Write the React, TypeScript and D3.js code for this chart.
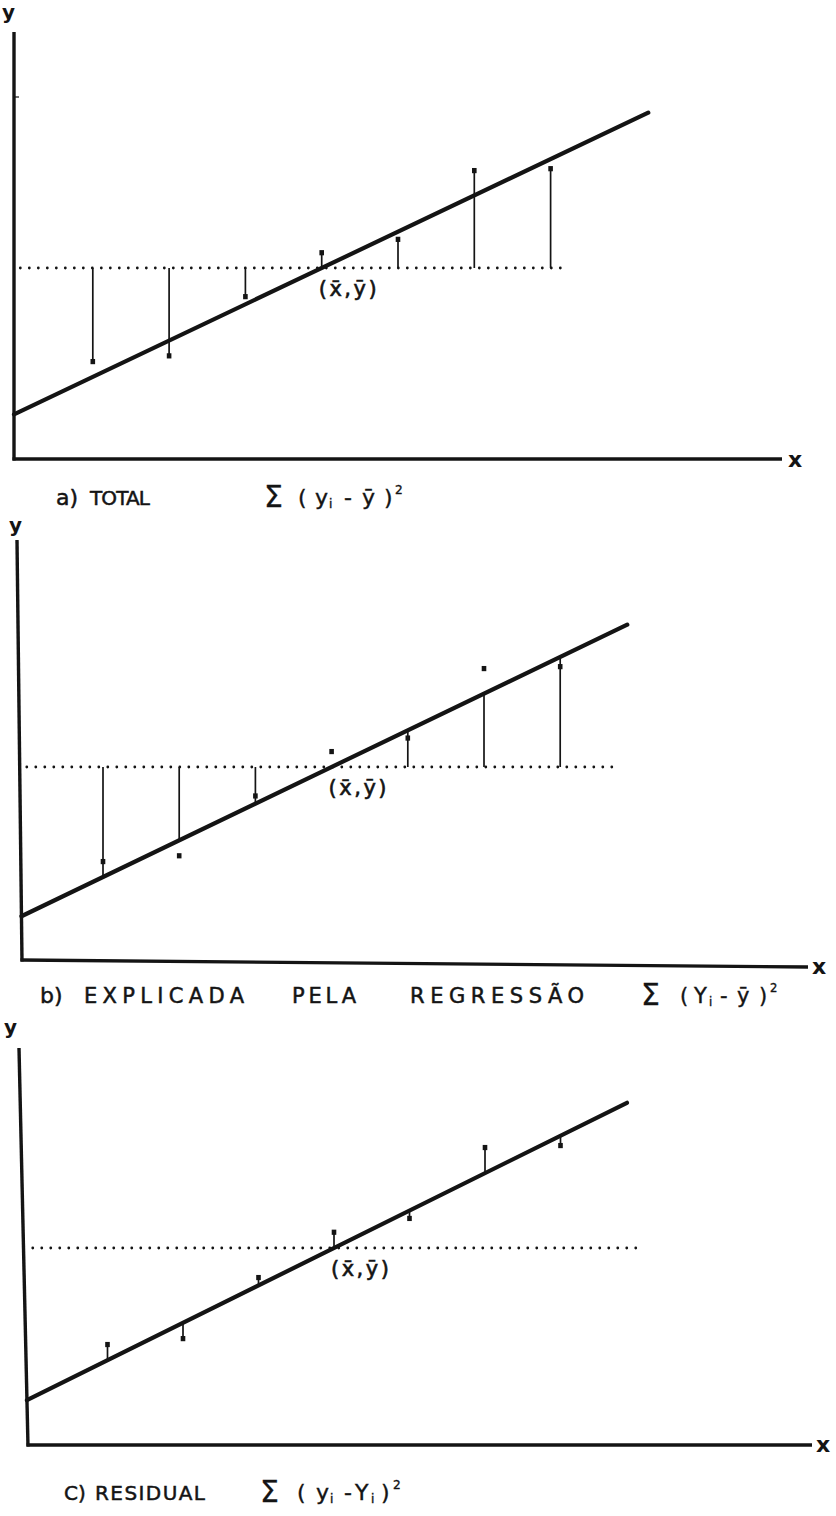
import React from "react";
import * as d3 from "d3";

// Observations (x_i, y_i) shared by the three decompositions
const xValues = [1, 2, 3, 4, 5, 6, 7];
const yValues = [5.1, 5.4, 8.5, 10.8, 11.5, 15.1, 15.2];

// Means and the fitted regression line Y = a + b·x
const xMean = 4;
const yMean = 10;
const intercept = 2.4;
const slope = 1.9;

type Mode = "total" | "explained" | "residual";
const panelModes: Mode[] = ["total", "explained", "residual"];

// Caption words and the sum of squares shown next to them
const captionWords = [
  ["a)", "TOTAL"],
  ["b)", "EXPLICADA", "PELA", "REGRESSÃO"],
  ["C)", "RESIDUAL"],
];
// Glyphs of each squared difference: [text, role]
const formulaGlyphs: [string, "n" | "sub" | "sup"][][] = [
  [["(", "n"], ["y", "n"], ["i", "sub"], ["-", "n"], ["ȳ", "n"], [")", "n"], ["2", "sup"]],
  [["(", "n"], ["Y", "n"], ["i", "sub"], ["-", "n"], ["ȳ", "n"], [")", "n"], ["2", "sup"]],
  [["(", "n"], ["y", "n"], ["i", "sub"], ["-", "n"], ["Y", "n"], ["i", "sub"], [")", "n"], ["2", "sup"]],
];

interface Word {
  x: number;
  size: number;
  w?: number;
}
interface Layout {
  top: number;
  leftTop: number;
  leftBottom: number;
  bottom: number;
  bottomRight: number;
  right: number;
  x0: number;
  xUnit: number;
  yUnit: number;
  lineEnd: number;
  meanFrom: number;
  meanTo: number;
  yLabel: [number, number];
  xLabel: [number, number];
  captionY: number;
  words: Word[];
  sigmaX: number;
  formulaX: number;
  glyphOffsets: number[];
  formulaSize: number;
}

const layouts: Layout[] = [
  {
    top: 32, leftTop: 14, leftBottom: 14, bottom: 459, bottomRight: 459, right: 782,
    x0: 16.5, xUnit: 76.3, yUnit: 19.1, lineEnd: 8.28, meanFrom: 0.05, meanTo: 7.2,
    yLabel: [2, 19], xLabel: [788, 467], captionY: 505,
    words: [{ x: 56, size: 22 }, { x: 90, size: 20, w: 60 }],
    sigmaX: 264, formulaX: 298,
    glyphOffsets: [0, 17, 31, 46, 64, 86, 97], formulaSize: 22,
  },
  {
    top: 540, leftTop: 17, leftBottom: 22, bottom: 960, bottomRight: 967, right: 808,
    x0: 26.8, xUnit: 76.2, yUnit: 19.3, lineEnd: 7.88, meanFrom: 0.0, meanTo: 7.76,
    yLabel: [9, 532], xLabel: [812, 974], captionY: 1003,
    words: [
      { x: 40, size: 22 },
      { x: 84, size: 21, w: 160 },
      { x: 292, size: 21, w: 64 },
      { x: 410, size: 21, w: 174 },
    ],
    sigmaX: 641, formulaX: 680,
    glyphOffsets: [0, 14, 29, 40, 57, 79, 90], formulaSize: 21,
  },
  {
    top: 1048, leftTop: 19, leftBottom: 28, bottom: 1445, bottomRight: 1445, right: 812,
    x0: 32, xUnit: 75.5, yUnit: 19.7, lineEnd: 7.88, meanFrom: 0.01, meanTo: 8.05,
    yLabel: [4, 1034], xLabel: [816, 1452], captionY: 1500,
    words: [{ x: 64, size: 20 }, { x: 95, size: 20, w: 110 }],
    sigmaX: 260, formulaX: 297,
    glyphOffsets: [0, 19, 33, 47, 58, 74, 84, 96], formulaSize: 22,
  },
];

const INK = "#141414";
const FONT = "'DejaVu Sans', sans-serif";

function Formula({ x, y, glyphs, offsets, size }: { x: number; y: number; glyphs: [string, string][]; offsets: number[]; size: number }) {
  return (
    <g fontFamily={FONT} fill={INK} stroke={INK} strokeWidth={0.4}>
      {glyphs.map(([t, role], i) => (
        <text
          key={i}
          x={x + offsets[i]}
          y={role === "sub" ? y + 3 : role === "sup" ? y - 11 : y}
          fontSize={role === "n" ? size : size * 0.55}
        >
          {t}
        </text>
      ))}
    </g>
  );
}

function Panel({ layout, mode, index }: { layout: Layout; mode: Mode; index: number }) {
  const L = layout;
  const xScale = d3.scaleLinear().domain([0, 10]).range([L.x0, L.x0 + 10 * L.xUnit]);
  const yScale = d3.scaleLinear().domain([0, 20]).range([L.bottom, L.bottom - 20 * L.yUnit]);
  const fit = (x: number) => intercept + slope * x;

  // the fitted line starts where it meets the (slightly slanted) y axis
  const axisXAt = (py: number) => L.leftBottom + (L.leftTop - L.leftBottom) * ((L.bottom - py) / (L.bottom - L.top));
  const lineStart = xScale.invert(axisXAt(yScale(fit(0))));
  const regPath = d3.line()([
    [xScale(lineStart), yScale(fit(lineStart))],
    [xScale(L.lineEnd), yScale(fit(L.lineEnd))],
  ]) as string;

  const meanPath = d3.line()([
    [xScale(L.meanFrom), yScale(yMean)],
    [xScale(L.meanTo), yScale(yMean)],
  ]) as string;

  const segments = xValues.map((xv, i) => {
    const yv = yValues[i];
    const yhat = fit(xv);
    let from = yMean;
    let to = yv;
    if (mode === "explained") {
      from = yMean;
      to = yhat;
    } else if (mode === "residual") {
      from = yhat;
      to = yv;
    }
    return { x: xScale(xv), y1: yScale(from), y2: yScale(to), py: yScale(yv) };
  });

  return (
    <g>
      {/* axes */}
      <line x1={L.leftTop} y1={L.top} x2={L.leftBottom} y2={L.bottom + 1.5} stroke={INK} strokeWidth={3.4} />
      <line x1={L.leftBottom - 1.5} y1={L.bottom} x2={L.right} y2={L.bottomRight} stroke={INK} strokeWidth={3.4} />
      {index === 0 && <line x1={L.leftTop} y1={97} x2={L.leftTop + 5} y2={97} stroke={INK} strokeWidth={1.2} />}
      <text x={L.yLabel[0]} y={L.yLabel[1]} fontFamily={FONT} fontSize={20} fontWeight="bold" fill={INK}>y</text>
      <text x={L.xLabel[0]} y={L.xLabel[1]} fontFamily={FONT} fontSize={22} fontWeight="bold" fill={INK}>x</text>

      {/* mean level ȳ */}
      <path d={meanPath} stroke={INK} strokeWidth={2.8} strokeLinecap="round" strokeDasharray="0 9" fill="none" />

      {/* deviations */}
      {segments.map((s, i) => (
        <line key={`d${i}`} x1={s.x} y1={s.y1} x2={s.x} y2={s.y2} stroke={INK} strokeWidth={1.7} />
      ))}

      {/* regression line */}
      <path d={regPath} stroke={INK} strokeWidth={4.2} strokeLinecap="round" fill="none" />

      {/* observations */}
      {segments.map((s, i) => (
        <rect key={`p${i}`} x={s.x - 2.3} y={s.py - 2.6} width={4.6} height={5.2} fill={INK} />
      ))}

      {/* centroid label */}
      <text
        x={xScale(xMean) - 3}
        y={yScale(yMean) + 28}
        fontFamily={FONT}
        fontSize={21}
        fill={INK}
        stroke={INK}
        strokeWidth={0.6}
        letterSpacing={2.5}
      >
        (x̄,ȳ)
      </text>

      {/* caption */}
      {captionWords[index].map((w, i) => (
        <text
          key={`w${i}`}
          x={L.words[i].x}
          y={L.captionY}
          fontFamily={FONT}
          fontSize={L.words[i].size}
          fill={INK}
          stroke={INK}
          strokeWidth={0.5}
          textLength={L.words[i].w}
          lengthAdjust="spacing"
        >
          {w}
        </text>
      ))}
      <text x={L.sigmaX} y={L.captionY + 2} fontFamily={FONT} fontSize={30} fill={INK} stroke={INK} strokeWidth={0.3}>Σ</text>
      <Formula x={L.formulaX} y={L.captionY} glyphs={formulaGlyphs[index]} offsets={L.glyphOffsets} size={L.formulaSize} />
    </g>
  );
}

export default function App() {
  return (
    <svg
      width={836}
      height={1516}
      viewBox="0 0 836 1516"
      style={{ position: "absolute", left: 0, top: 0, background: "#fff" }}
    >
      <rect width={836} height={1516} fill="#fff" />
      {layouts.map((l, i) => (
        <Panel key={i} layout={l} mode={panelModes[i]} index={i} />
      ))}
    </svg>
  );
}
